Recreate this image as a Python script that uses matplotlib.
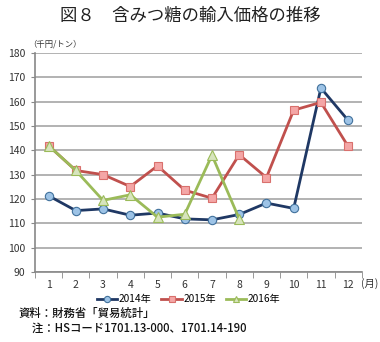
import numpy as np
import matplotlib
matplotlib.use("Agg")
import matplotlib.pyplot as plt

plt.rcParams['font.family'] = ['Noto Sans CJK JP', 'DejaVu Sans']

months = [1, 2, 3, 4, 5, 6, 7, 8, 9, 10, 11, 12]
month_labels = [str(m) for m in months]
y2014 = [121.3, 115.2, 115.9, 113.3, 114.2, 111.8, 111.4, 113.6, 118.3, 116.1, 165.6, 152.3]
y2015 = [141.9, 131.7, 130.0, 125.1, 133.6, 123.6, 120.3, 138.2, 128.8, 156.5, 159.7, 141.6]
m2016 = [1, 2, 3, 4, 5, 6, 7, 8]
y2016 = [141.9, 131.7, 119.4, 121.7, 112.5, 113.7, 138.0, 111.8]
yticks = [90, 100, 110, 120, 130, 140, 150, 160, 170, 180]

fig = plt.figure(figsize=(3.8, 3.42), dpi=100)
ax = fig.add_axes([0.092, 0.205, 0.86, 0.64])

#series
ax.plot(months, y2014, color='#1F3864', lw=2, marker='o', ms=6,
        mfc='#9DC3E6', mec='#41719C', mew=0.8, label='2014年', zorder=3)
ax.plot(months, y2015, color='#C0504D', lw=2, marker='s', ms=6,
        mfc='#F4A6A6', mec='#D9706D', mew=0.8, label='2015年', zorder=3)
ax.plot(m2016, y2016, color='#9BBB59', lw=2, marker='^', ms=6.5,
        mfc='#D7E4BD', mec='#9BBB59', mew=0.8, label='2016年', zorder=3)

ax.set_xlim(0.5, 12.5)
ax.set_ylim(90, 180)
ax.set_yticks(yticks)
ax.set_xticks(months)
ax.set_xticklabels(month_labels)
ax.set_xticks(np.arange(0.5, 13, 1), minor=True)
ax.tick_params(axis='x', which='major', length=0, pad=6, labelsize=7.5, colors='#333333')
ax.tick_params(axis='x', which='minor', length=4, color='#888888', direction='out')
ax.tick_params(axis='y', length=3, color='#888888', labelsize=7.5, colors='#333333', pad=4)
ax.grid(axis='y', color='#A6A6A6', lw=1.2)
ax.set_axisbelow(True)
for s in ['top', 'right']:
    ax.spines[s].set_visible(False)
for s in ['left', 'bottom']:
    ax.spines[s].set_color('#888888')
    ax.spines[s].set_linewidth(1.2)

fig.text(0.5, 0.952, '図８　含みつ糖の輸入価格の推移', ha='center', va='center', fontsize=12.5, color='#222222')
fig.text(0.075, 0.87, '（千円/トン）', ha='left', va='center', fontsize=6, color='#333333')
fig.text(0.95, 0.172, '(月)', ha='left', va='center', fontsize=7.5, color='#333333')

ax.legend(loc='upper center', bbox_to_anchor=(0.47, -0.06), ncol=3, frameon=False,
          fontsize=7.3, handlelength=2.0, columnspacing=1.0, handletextpad=0.15,
          markerscale=0.75)

fig.text(0.048, 0.085, '資料：財務省「貿易統計」', ha='left', va='center', fontsize=8.2,
         color='#111111', fontweight='medium')
fig.text(0.048, 0.04, '　 注：HSコード1701.13-000、1701.14-190', ha='left', va='center',
         fontsize=8.2, color='#111111', fontweight='medium')

fig.savefig('out.png', dpi=100)
